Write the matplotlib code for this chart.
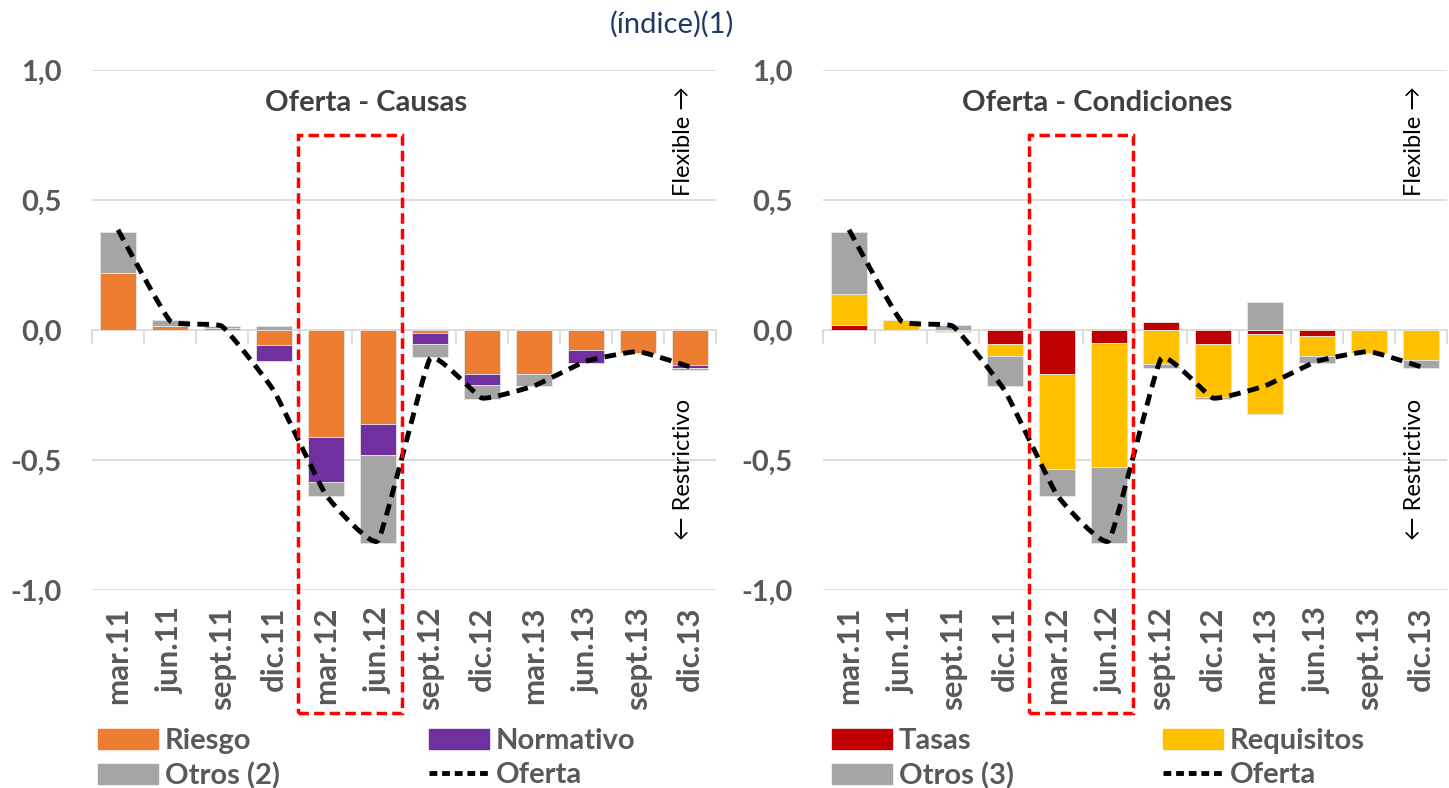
import numpy as np
import matplotlib.pyplot as plt
from matplotlib.patches import Rectangle, Patch
from matplotlib.lines import Line2D
import matplotlib.transforms as mtransforms

plt.rcParams['font.family'] = ['Lato', 'DejaVu Sans']

# datos (indice)
periodos = ['mar.11', 'jun.11', 'sept.11', 'dic.11', 'mar.12', 'jun.12',
            'sept.12', 'dic.12', 'mar.13', 'jun.13', 'sept.13', 'dic.13']
oferta = [0.385, 0.035, 0.014, -0.235, -0.635, -0.81,
          -0.11, -0.262, -0.215, -0.12, -0.083, -0.142]

# causas
riesgo = [0.22, 0.014, 0.006, -0.057, -0.412, -0.363,
          -0.01, -0.17, -0.17, -0.077, -0.088, -0.136]
normativo = [0.0, 0.0, 0.0, -0.063, -0.173, -0.119,
             -0.045, -0.042, 0.0, -0.049, 0.0, -0.009]
otros_causas = [0.157, 0.023, 0.009, 0.015, -0.053, -0.336,
                -0.051, -0.055, -0.047, 0.0, 0.0, -0.008]

# condiciones
tasas = [0.019, 0.0, -0.005, -0.055, -0.169, -0.05,
         0.031, -0.055, -0.017, -0.023, 0.0, 0.0]
requisitos = [0.121, 0.038, -0.003, -0.044, -0.367, -0.476,
              -0.132, -0.201, -0.306, -0.077, -0.087, -0.115]
otros_cond = [0.237, 0.0, 0.019, -0.118, -0.102, -0.292,
              -0.014, -0.011, 0.108, -0.026, 0.0, -0.031]

GRIS_TXT = '#595959'
GRID = '#d9d9d9'


def suavizar(x, y, k=0.35, n=24):
    # hermite con tangentes reducidas (suavizado leve, como Excel)
    x = np.asarray(x, float)
    y = np.asarray(y, float)
    pts = np.column_stack([x, y])
    m = np.zeros_like(pts)
    m[1:-1] = k * (pts[2:] - pts[:-2]) / 2
    t = np.linspace(0, 1, n, endpoint=False)[:, None]
    h00 = 2 * t ** 3 - 3 * t ** 2 + 1
    h10 = t ** 3 - 2 * t ** 2 + t
    h01 = -2 * t ** 3 + 3 * t ** 2
    h11 = t ** 3 - t ** 2
    out = []
    for i in range(len(pts) - 1):
        out.append(h00 * pts[i] + h10 * m[i] + h01 * pts[i + 1] + h11 * m[i + 1])
    out.append(pts[-1:])
    out = np.vstack(out)
    return out[:, 0], out[:, 1]


def panel(ax, series, colores, titulo):
    x = np.arange(len(periodos))
    pos = np.zeros(len(x))
    neg = np.zeros(len(x))
    for vals, c in zip(series, colores):
        vals = np.asarray(vals, dtype=float)
        base = np.where(vals >= 0, pos, neg)
        ax.bar(x, vals, 0.7, bottom=base, color=c, edgecolor='#e6e6e6', lw=0.6, zorder=2)
        pos += np.clip(vals, 0, None)
        neg += np.clip(vals, None, 0)

    xs, ys = suavizar(x, oferta)
    ax.plot(xs, ys, color='black', lw=3.5, dashes=(2.4, 1.5), zorder=3)

    ax.set_xlim(-0.5, len(x) - 0.5)
    ax.set_ylim(-1.0, 1.0)
    ax.set_yticks([-1.0, -0.5, 0.0, 0.5, 1.0])
    ax.set_yticklabels(['-1,0', '-0,5', '0,0', '0,5', '1,0'])
    ax.set_xticks(x)
    ax.set_xticklabels(periodos, rotation=90)
    ax.tick_params(axis='both', length=0, labelcolor=GRIS_TXT)
    ax.tick_params(axis='y', pad=22, labelsize=21)
    ax.tick_params(axis='x', pad=12, labelsize=22.5)
    for lab in ax.get_xticklabels() + ax.get_yticklabels():
        lab.set_fontweight('bold')
    for s in ax.spines.values():
        s.set_visible(False)
    for yv in [-1.0, -0.5, 0.5, 1.0]:
        ax.axhline(yv, color=GRID, lw=1.3, zorder=0)

    # eje de categorias en cero, marcas hacia abajo
    sec = ax.secondary_xaxis(0.4999)
    sec.set_xticks(np.arange(len(x) + 1) - 0.5)
    sec.set_xticklabels([])
    sec.tick_params(direction='out', length=10, width=1.3, color=GRID)
    for s in sec.spines.values():
        s.set_color(GRID)
        s.set_linewidth(1.3)

    ax.text(0.439, 0.937, titulo, transform=ax.transAxes, ha='center', va='center',
            fontsize=21, fontweight='bold', color='#404040')
    ax.text(0.947, 0.863, 'Flexible \u2192', transform=ax.transAxes, rotation=90,
            ha='center', va='center', fontsize=17, color='black')
    ax.text(0.947, 0.231, '\u2190 Restrictivo', transform=ax.transAxes, rotation=90,
            ha='center', va='center', fontsize=17, color='black')

    trans = mtransforms.blended_transform_factory(ax.transData, ax.transAxes)
    rect = Rectangle((3.46, -0.2365), 2.0, 1.1115, transform=trans, fill=False,
                     edgecolor='#ff0000', lw=2.5, ls=(0, (3, 1.5)), clip_on=False, zorder=5)
    ax.add_patch(rect)


fig = plt.figure(figsize=(14.49, 7.88), dpi=100)
ax1 = fig.add_axes([0.0635, 0.2513, 0.4307, 0.66])
ax2 = fig.add_axes([0.568, 0.2513, 0.4307, 0.66])

c_riesgo, c_norm, c_otros = '#ED7D31', '#7030A0', '#A5A5A5'
c_tasas, c_req = '#C00000', '#FFC000'

panel(ax1, [riesgo, normativo, otros_causas], [c_riesgo, c_norm, c_otros], 'Oferta - Causas')
panel(ax2, [tasas, requisitos, otros_cond], [c_tasas, c_req, c_otros], 'Oferta - Condiciones')

fig.text(672 / 1449, 1 - 24 / 788, '(índice)(1)', ha='center', va='center',
         fontsize=21, color='#1F3864')

linea = Line2D([], [], color='black', lw=3.5, dashes=(1.6, 1.0))


def leyenda(x0, etiquetas, colores):
    h = [Patch(color=colores[0]), Patch(color=c_otros), Patch(color=colores[1]), linea]
    lab = [etiquetas[0], etiquetas[2], etiquetas[1], 'Oferta']
    leg = fig.legend(h, lab, ncol=2, loc='upper left', bbox_to_anchor=(x0 / 1449, 1 - 728 / 788),
                     frameon=False, borderpad=0, borderaxespad=0, handlelength=2.05,
                     handleheight=0.69, handletextpad=0.25, labelspacing=0.28,
                     columnspacing=5.1, prop={'size': 21, 'weight': 'bold'})
    for t in leg.get_texts():
        t.set_color(GRIS_TXT)


leyenda(98, ['Riesgo', 'Normativo', 'Otros (2)'], [c_riesgo, c_norm])
leyenda(832, ['Tasas', 'Requisitos', 'Otros (3)'], [c_tasas, c_req])

fig.savefig('out.png', dpi=100)
